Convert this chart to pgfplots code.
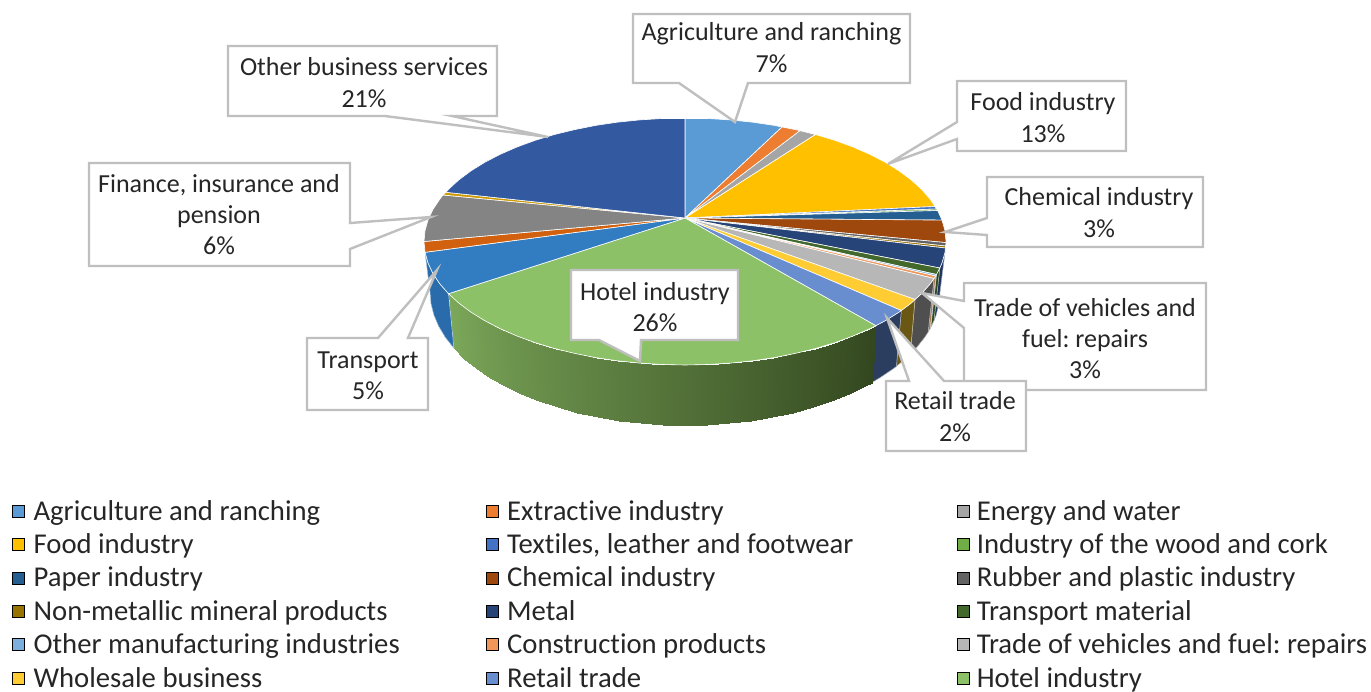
\documentclass[border=0pt]{standalone}
\usepackage{pgfplots}
\pgfplotsset{compat=1.18}
\usepackage{fontspec}
\setmainfont{Carlito}[Ligatures={NoCommon}]
\definecolor{cAgri}{HTML}{5B9BD5}
\definecolor{cExtr}{HTML}{ED7D31}
\definecolor{cEner}{HTML}{A5A5A5}
\definecolor{cFood}{HTML}{FFC000}
\definecolor{cText}{HTML}{4472C4}
\definecolor{cWood}{HTML}{70AD47}
\definecolor{cPape}{HTML}{255E91}
\definecolor{cChem}{HTML}{9E480E}
\definecolor{cRubb}{HTML}{636363}
\definecolor{cNonm}{HTML}{997300}
\definecolor{cMeta}{HTML}{264478}
\definecolor{cTmat}{HTML}{43682B}
\definecolor{cOman}{HTML}{7CAFDD}
\definecolor{cCons}{HTML}{F1975A}
\definecolor{cTrad}{HTML}{B7B7B7}
\definecolor{cWhol}{HTML}{FFCD33}
\definecolor{cReta}{HTML}{698ED0}
\definecolor{cHote}{HTML}{8CC168}
\definecolor{cTran}{HTML}{327DC2}
\definecolor{cInfo}{HTML}{D1610E}
\definecolor{cFina}{HTML}{848484}
\definecolor{cGold}{HTML}{CC9A00}
\definecolor{cOthe}{HTML}{335AA1}
\definecolor{wMeta}{HTML}{1F3560}
\definecolor{wTmat}{HTML}{2E4A1D}
\definecolor{wOman}{HTML}{5A7EA0}
\definecolor{wCons}{HTML}{A06B3E}
\definecolor{wTrad}{HTML}{4F4F4F}
\definecolor{wWhol}{HTML}{6B5714}
\definecolor{wReta}{HTML}{2C3E60}
\definecolor{wTran}{HTML}{2A6CAB}
\definecolor{lineg}{HTML}{BFBFBF}
\definecolor{txt}{HTML}{262626}
\tikzset{
  slice/.style={fill=#1, draw=white, line width=0.6pt, line join=round},
  wall/.style={fill=#1, draw=white!60!#1, line width=0.5pt, line join=round},
  callout/.style={fill=white, draw=lineg, line width=2.4pt, line join=miter},
  lab/.style={font=\fontsize{26}{31.4}\selectfont, text=txt, align=center, inner sep=0pt},
}
\begin{document}
\frenchspacing
\begin{tikzpicture}
\useasboundingbox (0,0) rectangle (1371pt,691pt);
\begin{axis}[
  anchor=south west, at={(0,0)},
  scale only axis, width=1371pt, height=691pt,
  xmin=0, xmax=1371, ymin=0, ymax=691, y dir=reverse,
  hide axis, clip=false, no markers,
  every axis plot/.append style={forget plot},
  colormap={hotelwall}{rgb255=(51,71,31) rgb255=(124,168,90)},
  point meta min=0, point meta max=1,
  legend columns=3,
  legend cell align=left,
  legend image code/.code={\path[#1] (0pt,-6pt) rectangle (12pt,6pt);},
  legend style={at={(axis cs:12,500)}, anchor=north west, draw=none, fill=none,
    inner sep=0pt, row sep=12pt, text=txt,
    font=\fontsize{28.7}{33.4}\selectfont,
    nodes={inner sep=0pt},
    /tikz/column 1/.style={column sep=9pt},
    /tikz/column 2/.style={column sep=86pt},
    /tikz/column 3/.style={column sep=9pt},
    /tikz/column 4/.style={column sep=104pt},
    /tikz/column 5/.style={column sep=7pt}},
]
% legend
\addlegendimage{fill=cAgri}\addlegendentry{Agriculture and ranching}
\addlegendimage{fill=cExtr}\addlegendentry{Extractive industry}
\addlegendimage{fill=cEner}\addlegendentry{Energy and water}
\addlegendimage{fill=cFood}\addlegendentry{Food industry}
\addlegendimage{fill=cText}\addlegendentry{Textiles, leather and footwear}
\addlegendimage{fill=cWood}\addlegendentry{Industry of the wood and cork}
\addlegendimage{fill=cPape}\addlegendentry{Paper industry}
\addlegendimage{fill=cChem}\addlegendentry{Chemical industry}
\addlegendimage{fill=cRubb}\addlegendentry{Rubber and plastic industry}
\addlegendimage{fill=cNonm}\addlegendentry{Non-metallic mineral products}
\addlegendimage{fill=cMeta}\addlegendentry{Metal}
\addlegendimage{fill=cTmat}\addlegendentry{Transport material}
\addlegendimage{fill=cOman}\addlegendentry{Other manufacturing industries}
\addlegendimage{fill=cCons}\addlegendentry{Construction products}
\addlegendimage{fill=cTrad}\addlegendentry{Trade of vehicles and fuel: repairs}
\addlegendimage{fill=cWhol}\addlegendentry{Wholesale business}
\addlegendimage{fill=cReta}\addlegendentry{Retail trade}
\addlegendimage{fill=cHote}\addlegendentry{Hotel industry}
% side walls, right
\addplot[wall=wMeta] coordinates {(945,252.3)(942,262.9)(939.8,268)(933.9,320.8)(936.1,315.1)(939,303.6)(940,292)} --cycle;
\addplot[wall=wTmat] coordinates {(939.8,268)(936.5,274.5)(930.7,327.5)(933.9,320.8)} --cycle;
\addplot[wall=wOman] coordinates {(936.5,274.5)(935.7,276)(930,329)(930.7,327.5)} --cycle;
\addplot[wall=wCons] coordinates {(935.7,276)(934,278.5)(928.2,332)(930,329)} --cycle;
\addplot[wall=wTrad] coordinates {(934,278.5)(930.3,283.7)(921.5,293.7)(915,299.5)(910.2,354.4)(916.1,348.2)(924.6,337.5)(928.2,332)} --cycle;
\addplot[wall=wWhol] coordinates {(915,299.5)(911,303.25)(901.3,310.5)(896.4,366.4)(905.8,358.5)(910.2,354.4)} --cycle;
\addplot[wall=wReta] coordinates {(901.3,310.5)(898.8,312.3)(884.9,320.9)(875.8,325.7)(871.5,382.7)(880.3,377.5)(893.9,368.3)(896.4,366.4)} --cycle;
% hotel wall, shaded from the dark end to the light end
\addplot[patch, patch type=rectangle, shader=interp, point meta=explicit] coordinates {
(875.8,325.7)[0] (869.6,328.8)[.018] (865.3,386)[.018] (871.5,382.7)[0]
(869.6,328.8)[.018] (852.8,336.1)[.0625] (848.9,393.9)[.0625] (865.3,386)[.018]
(852.8,336.1)[.0625] (834.7,342.7)[.107] (831.3,400.9)[.107] (848.9,393.9)[.0625]
(834.7,342.7)[.107] (815.5,348.5)[.152] (812.5,407.2)[.152] (831.3,400.9)[.107]
(815.5,348.5)[.152] (795.3,353.4)[.196] (792.8,412.5)[.196] (812.5,407.2)[.152]
(795.3,353.4)[.196] (774.3,357.6)[.241] (772.2,417)[.241] (792.8,412.5)[.196]
(774.3,357.6)[.241] (752.6,360.8)[.286] (751,420.5)[.286] (772.2,417)[.241]
(752.6,360.8)[.286] (730.3,363.1)[.33] (729.3,423)[.33] (751,420.5)[.286]
(730.3,363.1)[.33] (707.7,364.5)[.375] (707.2,424.5)[.375] (729.3,423)[.33]
(707.7,364.5)[.375] (685,365)[.42] (685,425)[.42] (707.2,424.5)[.375]
(685,365)[.42] (662.3,364.5)[.464] (662.8,424.5)[.464] (685,425)[.42]
(662.3,364.5)[.464] (639.7,363.1)[.509] (640.7,423)[.509] (662.8,424.5)[.464]
(639.7,363.1)[.509] (617.4,360.8)[.554] (619,420.5)[.554] (640.7,423)[.509]
(617.4,360.8)[.554] (595.7,357.6)[.598] (597.8,417)[.598] (619,420.5)[.554]
(595.7,357.6)[.598] (574.7,353.4)[.643] (577.2,412.5)[.643] (597.8,417)[.598]
(574.7,353.4)[.643] (554.5,348.5)[.688] (557.5,407.2)[.688] (577.2,412.5)[.643]
(554.5,348.5)[.688] (535.3,342.7)[.732] (538.7,400.9)[.732] (557.5,407.2)[.688]
(535.3,342.7)[.732] (517.2,336.1)[.777] (521.1,393.9)[.777] (538.7,400.9)[.732]
(517.2,336.1)[.777] (500.4,328.8)[.821] (504.7,386)[.821] (521.1,393.9)[.777]
(500.4,328.8)[.821] (485.1,320.9)[.866] (489.7,377.5)[.866] (504.7,386)[.821]
(485.1,320.9)[.866] (471.2,312.3)[.911] (476.1,368.3)[.911] (489.7,377.5)[.866]
(471.2,312.3)[.911] (459,303.25)[.955] (464.2,358.5)[.955] (476.1,368.3)[.911]
(459,303.25)[.955] (448.5,293.7)[1] (453.9,348.2)[1] (464.2,358.5)[.955]
};
% side wall, left
\addplot[wall=wTran] coordinates {(448.5,293.7)(439.7,283.7)(432.9,273.5)(428,262.9)(425,252.3)(430,292)(431,303.6)(433.9,315.1)(438.7,326.4)(445.4,337.5)(453.9,348.2)} --cycle;
% top face
\addplot[slice=cAgri] coordinates {(685,218)(685,118.5)(707.7,118.5)(730.3,119.9)(752.6,122.2)(774.3,125.4)(782,127)} --cycle;
\addplot[slice=cExtr] coordinates {(685,218)(782,127)(795.3,129.6)(800,130.7)} --cycle;
\addplot[slice=cEner] coordinates {(685,218)(800,130.7)(815.5,134.5)} --cycle;
\addplot[slice=cFood] coordinates {(685,218)(815.5,134.5)(834.7,140.3)(852.8,146.9)(869.6,154.2)(884.9,162.1)(898.8,170.7)(911,179.75)(921.5,189.3)(930.3,199.3)(935,206.5)} --cycle;
\addplot[slice=cText] coordinates {(685,218)(935,206.5)(936.7,209)} --cycle;
\addplot[slice=cWood] coordinates {(685,218)(936.7,209)(937.6,210.5)} --cycle;
\addplot[slice=cPape] coordinates {(685,218)(937.6,210.5)(942,220.1)} --cycle;
\addplot[slice=cChem] coordinates {(685,218)(942,220.1)(945,230.7)(946,241.5)(946,242.6)} --cycle;
\addplot[slice=cRubb] coordinates {(685,218)(946,242.6)(945.6,246)} --cycle;
\addplot[slice=cNonm] coordinates {(685,218)(945.6,246)(945.4,248)} --cycle;
\addplot[slice=cMeta] coordinates {(685,218)(945.4,248)(945,252.3)(942,262.9)(939.8,268)} --cycle;
\addplot[slice=cTmat] coordinates {(685,218)(939.8,268)(936.5,274.5)} --cycle;
\addplot[slice=cOman] coordinates {(685,218)(936.5,274.5)(935.7,276)} --cycle;
\addplot[slice=cCons] coordinates {(685,218)(935.7,276)(934,278.5)} --cycle;
\addplot[slice=cTrad] coordinates {(685,218)(934,278.5)(930.3,283.7)(921.5,293.7)(915,299.5)} --cycle;
\addplot[slice=cWhol] coordinates {(685,218)(915,299.5)(911,303.25)(901.3,310.5)} --cycle;
\addplot[slice=cReta] coordinates {(685,218)(901.3,310.5)(898.8,312.3)(884.9,320.9)(875.8,325.7)} --cycle;
\addplot[slice=cHote] coordinates {(685,218)(875.8,325.7)(869.6,328.8)(852.8,336.1)(834.7,342.7)(815.5,348.5)(795.3,353.4)(774.3,357.6)(752.6,360.8)(730.3,363.1)(707.7,364.5)(685,365)(662.3,364.5)(639.7,363.1)(617.4,360.8)(595.7,357.6)(574.7,353.4)(554.5,348.5)(535.3,342.7)(517.2,336.1)(500.4,328.8)(485.1,320.9)(471.2,312.3)(459,303.25)(448.5,293.7)} --cycle;
\addplot[slice=cTran] coordinates {(685,218)(448.5,293.7)(439.7,283.7)(432.9,273.5)(428,262.9)(425,252.3)} --cycle;
\addplot[slice=cInfo] coordinates {(685,218)(425,252.3)(424,241.5)} --cycle;
\addplot[slice=cFina] coordinates {(685,218)(424,241.5)(425,230.7)(428,220.1)(432.9,209.5)(439.7,199.3)(443,195)} --cycle;
\addplot[slice=cGold] coordinates {(685,218)(443,195)(446,192.3)} --cycle;
\addplot[slice=cOthe] coordinates {(685,218)(446,192.3)(448.5,189.3)(459,179.75)(471.2,170.7)(485.1,162.1)(500.4,154.2)(517.2,146.9)(535.3,140.3)(554.5,134.5)(574.7,129.6)(595.7,125.4)(617.4,122.2)(639.7,119.9)(662.3,118.5)(685,118.5)} --cycle;
% data callouts
\addplot[callout] coordinates {(633,14)(910,14)(910,83)(748,83)(735,122)(679,83)(633,83)} --cycle;
\addplot[callout] coordinates {(228,46)(497,46)(497,116)(452,116)(548,137)(385,116)(228,116)} --cycle;
\addplot[callout] coordinates {(957,81)(1126,81)(1126,151)(957,151)(957,139)(888,164)(957,122)} --cycle;
\addplot[callout] coordinates {(987,177)(1203,177)(1203,247)(987,247)(987,235)(945,232)(987,218)} --cycle;
\addplot[callout] coordinates {(964,283)(1206,283)(1206,390)(964,390)(964,328)(922,293)(964,301)} --cycle;
\addplot[callout] coordinates {(886,381)(909,381)(887,318)(944,381)(1026,381)(1026,451)(886,451)} --cycle;
\addplot[callout] coordinates {(571,270)(738,270)(738,340)(641,340)(640,361)(599,340)(571,340)} --cycle;
\addplot[callout] coordinates {(307,338)(378,338)(437,270)(408,338)(428,338)(428,410)(307,410)} --cycle;
\addplot[callout] coordinates {(89,163)(350,163)(350,223)(431,217)(350,249)(350,266)(89,266)} --cycle;
% callout texts
\node[lab] at (axis cs:771.5,47.5) {Agriculture and ranching\\7\%};
\node[lab] at (axis cs:364,82.5) {Other business services\\21\%};
\node[lab] at (axis cs:1043,117.5) {Food industry\\13\%};
\node[lab] at (axis cs:1099,212.5) {Chemical industry\\3\%};
\node[lab] at (axis cs:1085,338.5) {Trade of vehicles and\\fuel: repairs\\3\%};
\node[lab] at (axis cs:955,416.5) {Retail trade\\2\%};
\node[lab] at (axis cs:655,307) {Hotel industry\\26\%};
\node[lab] at (axis cs:368,375.5) {Transport\\5\%};
\node[lab] at (axis cs:219,214.5) {Finance, insurance and\\pension\\6\%};
\end{axis}
\end{tikzpicture}
\end{document}
